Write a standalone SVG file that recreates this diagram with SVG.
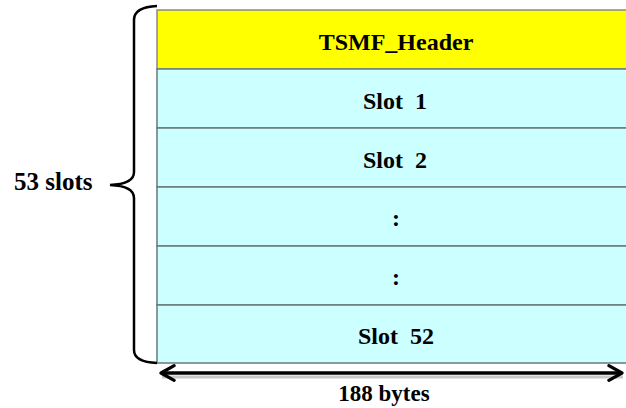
<svg xmlns="http://www.w3.org/2000/svg" width="626" height="408" viewBox="0 0 626 408">
<defs>
<style>
.t{font-family:"Liberation Serif","Times New Roman",serif;font-weight:bold;font-size:24px;fill:#000;text-anchor:middle;white-space:pre}
</style>
<marker id="ah" viewBox="0 0 12 12" refX="10" refY="6" markerWidth="5" markerHeight="5" orient="auto-start-reverse" markerUnits="strokeWidth">
<path d="M1,1 L10,6 L1,11" fill="none" stroke="#000" stroke-width="2.2" stroke-linecap="round" stroke-linejoin="round"/>
</marker>
</defs>
<rect width="626" height="408" fill="#fff"/>
<g id="header"><rect x="157" y="10" width="480" height="59" fill="#ffff00" stroke="#888" stroke-width="1.5"/><text class="t" x="396" y="50">TSMF_Header</text></g>
<g id="slot1"><rect x="157" y="69" width="480" height="59" fill="#ccffff" stroke="#6a7a7a" stroke-width="1.5"/><text class="t" x="395" y="109" xml:space="preserve">Slot  1</text></g>
<g id="slot2"><rect x="157" y="128" width="480" height="59" fill="#ccffff" stroke="#6a7a7a" stroke-width="1.5"/><text class="t" x="395" y="168" xml:space="preserve">Slot  2</text></g>
<g id="dots1"><rect x="157" y="187" width="480" height="59" fill="#ccffff" stroke="#6a7a7a" stroke-width="1.5"/><text class="t" x="396" y="226">:</text></g>
<g id="dots2"><rect x="157" y="246" width="480" height="59" fill="#ccffff" stroke="#6a7a7a" stroke-width="1.5"/><text class="t" x="396" y="285">:</text></g>
<g id="slot52"><rect x="157" y="305" width="480" height="58" fill="#ccffff" stroke="#6a7a7a" stroke-width="1.5"/><text class="t" x="396" y="344" xml:space="preserve">Slot  52</text></g>
<g id="connectors">
<path d="M157,6 Q134,7 134,20 L134,172 Q134,184 110,185 Q134,186 134,198 L134,350 Q134,362 157,363" fill="none" stroke="#000" stroke-width="2.5"/>
<line x1="161" y1="374" x2="622" y2="374" stroke="#c8c8c8" stroke-width="3" transform="translate(1,3)"/>
<line x1="161" y1="373" x2="622" y2="373" stroke="#000" stroke-width="3.5" marker-start="url(#ah)" marker-end="url(#ah)"/>
</g>
<g id="labels">
<text x="14" y="190" style="font-family:'Liberation Serif','Times New Roman',serif;font-size:25px;fill:#000;font-weight:bold">53 slots</text>
<text class="t" x="384" y="401" style="font-size:23px">188 bytes</text>
</g>
</svg>
